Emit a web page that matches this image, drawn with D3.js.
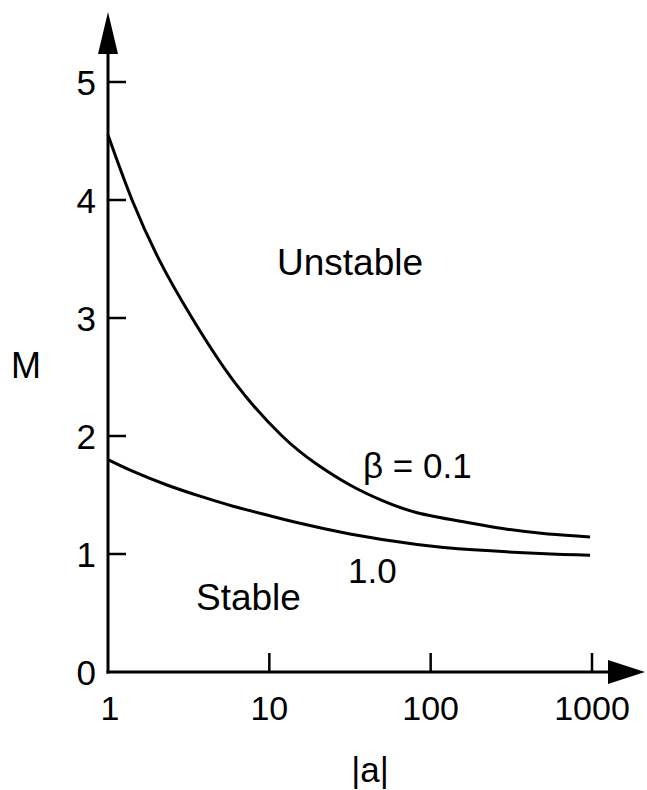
<!DOCTYPE html>
<html>
<head>
<meta charset="utf-8">
<script src="https://cdn.jsdelivr.net/npm/d3@7"></script>
<style>
  html, body { margin: 0; padding: 0; background: #fff; }
  svg text { font-family: "Liberation Sans", Arial, Helvetica, sans-serif; fill: #000; }
</style>
</head>
<body>
<svg id="chart" width="647" height="790"></svg>
<script>
// ---- data ----
const xTicks = [1, 10, 100, 1000];
const xTickLabels = ["1", "10", "100", "1000"];
const yTicks = [0, 1, 2, 3, 4, 5];
const yTickLabels = ["0", "1", "2", "3", "4", "5"];

const beta01A = [1, 1.41, 2.10, 3.32, 6.13, 12.0, 19.5, 31.6, 50.7, 82.4, 157, 298, 535, 973];
const beta01M = [4.55, 4.0, 3.48, 3.0, 2.45, 2.0, 1.765, 1.585, 1.45, 1.35, 1.275, 1.21, 1.17, 1.145];

const beta10A = [1, 1.43, 2.32, 3.72, 5.96, 9.68, 15.5, 31.6, 82.4, 183, 477, 973];
const beta10M = [1.80, 1.70, 1.585, 1.49, 1.405, 1.33, 1.26, 1.17, 1.08, 1.035, 1.005, 0.99];

const svg = d3.select("#chart");

const x = d3.scaleLog().domain([1, 1000]).range([108, 592]);
const y = d3.scaleLinear().domain([0, 5]).range([672, 82]);

const axisColor = "#000";

// y axis line + arrow
svg.append("line")
  .attr("x1", x(1)).attr("x2", x(1))
  .attr("y1", y(0) + 1.5).attr("y2", 50)
  .attr("stroke", axisColor).attr("stroke-width", 3);
svg.append("path")
  .attr("d", `M${x(1)},12 L${x(1) - 10},54 L${x(1) + 10},54 Z`)
  .attr("fill", axisColor);

// x axis line + arrow
svg.append("line")
  .attr("x1", x(1) - 1.5).attr("x2", 612)
  .attr("y1", y(0)).attr("y2", y(0))
  .attr("stroke", axisColor).attr("stroke-width", 3);
svg.append("path")
  .attr("d", `M645,${y(0)} L608,${y(0) - 12} L608,${y(0) + 12} Z`)
  .attr("fill", axisColor);

// y ticks (inward) and labels
const yAxisG = svg.append("g");
yTicks.forEach((t, i) => {
  if (t > 0) {
    yAxisG.append("line")
      .attr("x1", x(1)).attr("x2", x(1) + 18)
      .attr("y1", y(t)).attr("y2", y(t))
      .attr("stroke", axisColor).attr("stroke-width", 2.5);
  }
  yAxisG.append("text")
    .attr("x", 96).attr("y", y(t))
    .attr("dy", "0.36em")
    .attr("text-anchor", "end")
    .attr("font-size", 35)
    .text(yTickLabels[i]);
});

// x ticks (inward) and labels
const xAxisG = svg.append("g");
xTicks.forEach((t, i) => {
  if (t > 1) {
    xAxisG.append("line")
      .attr("x1", x(t)).attr("x2", x(t))
      .attr("y1", y(0)).attr("y2", y(0) - 19)
      .attr("stroke", axisColor).attr("stroke-width", 2.5);
  }
  xAxisG.append("text")
    .attr("x", x(t) + (t === 1 ? 2 : 0)).attr("y", 720)
    .attr("text-anchor", "middle")
    .attr("font-size", 34)
    .text(xTickLabels[i]);
});

// curves
const line = d3.line()
  .x(d => x(d[0]))
  .y(d => y(d[1]))
  .curve(d3.curveNatural);

svg.append("path")
  .datum(beta01A.map((a, i) => [a, beta01M[i]]))
  .attr("d", line)
  .attr("fill", "none").attr("stroke", "#000").attr("stroke-width", 3);

svg.append("path")
  .datum(beta10A.map((a, i) => [a, beta10M[i]]))
  .attr("d", line)
  .attr("fill", "none").attr("stroke", "#000").attr("stroke-width", 3);

// annotations
svg.append("text").attr("x", 277).attr("y", 275).attr("font-size", 37).text("Unstable");
svg.append("text").attr("x", 196).attr("y", 610).attr("font-size", 37).text("Stable");
svg.append("text").attr("x", 363).attr("y", 478).attr("font-size", 35).text("β = 0.1");
svg.append("text").attr("x", 348).attr("y", 583).attr("font-size", 35).text("1.0");

// axis titles
svg.append("text").attr("x", 26).attr("y", 378).attr("text-anchor", "middle").attr("font-size", 36).text("M");
svg.append("text").attr("x", 370).attr("y", 782).attr("text-anchor", "middle").attr("font-size", 35).text("|a|");
</script>
</body>
</html>
